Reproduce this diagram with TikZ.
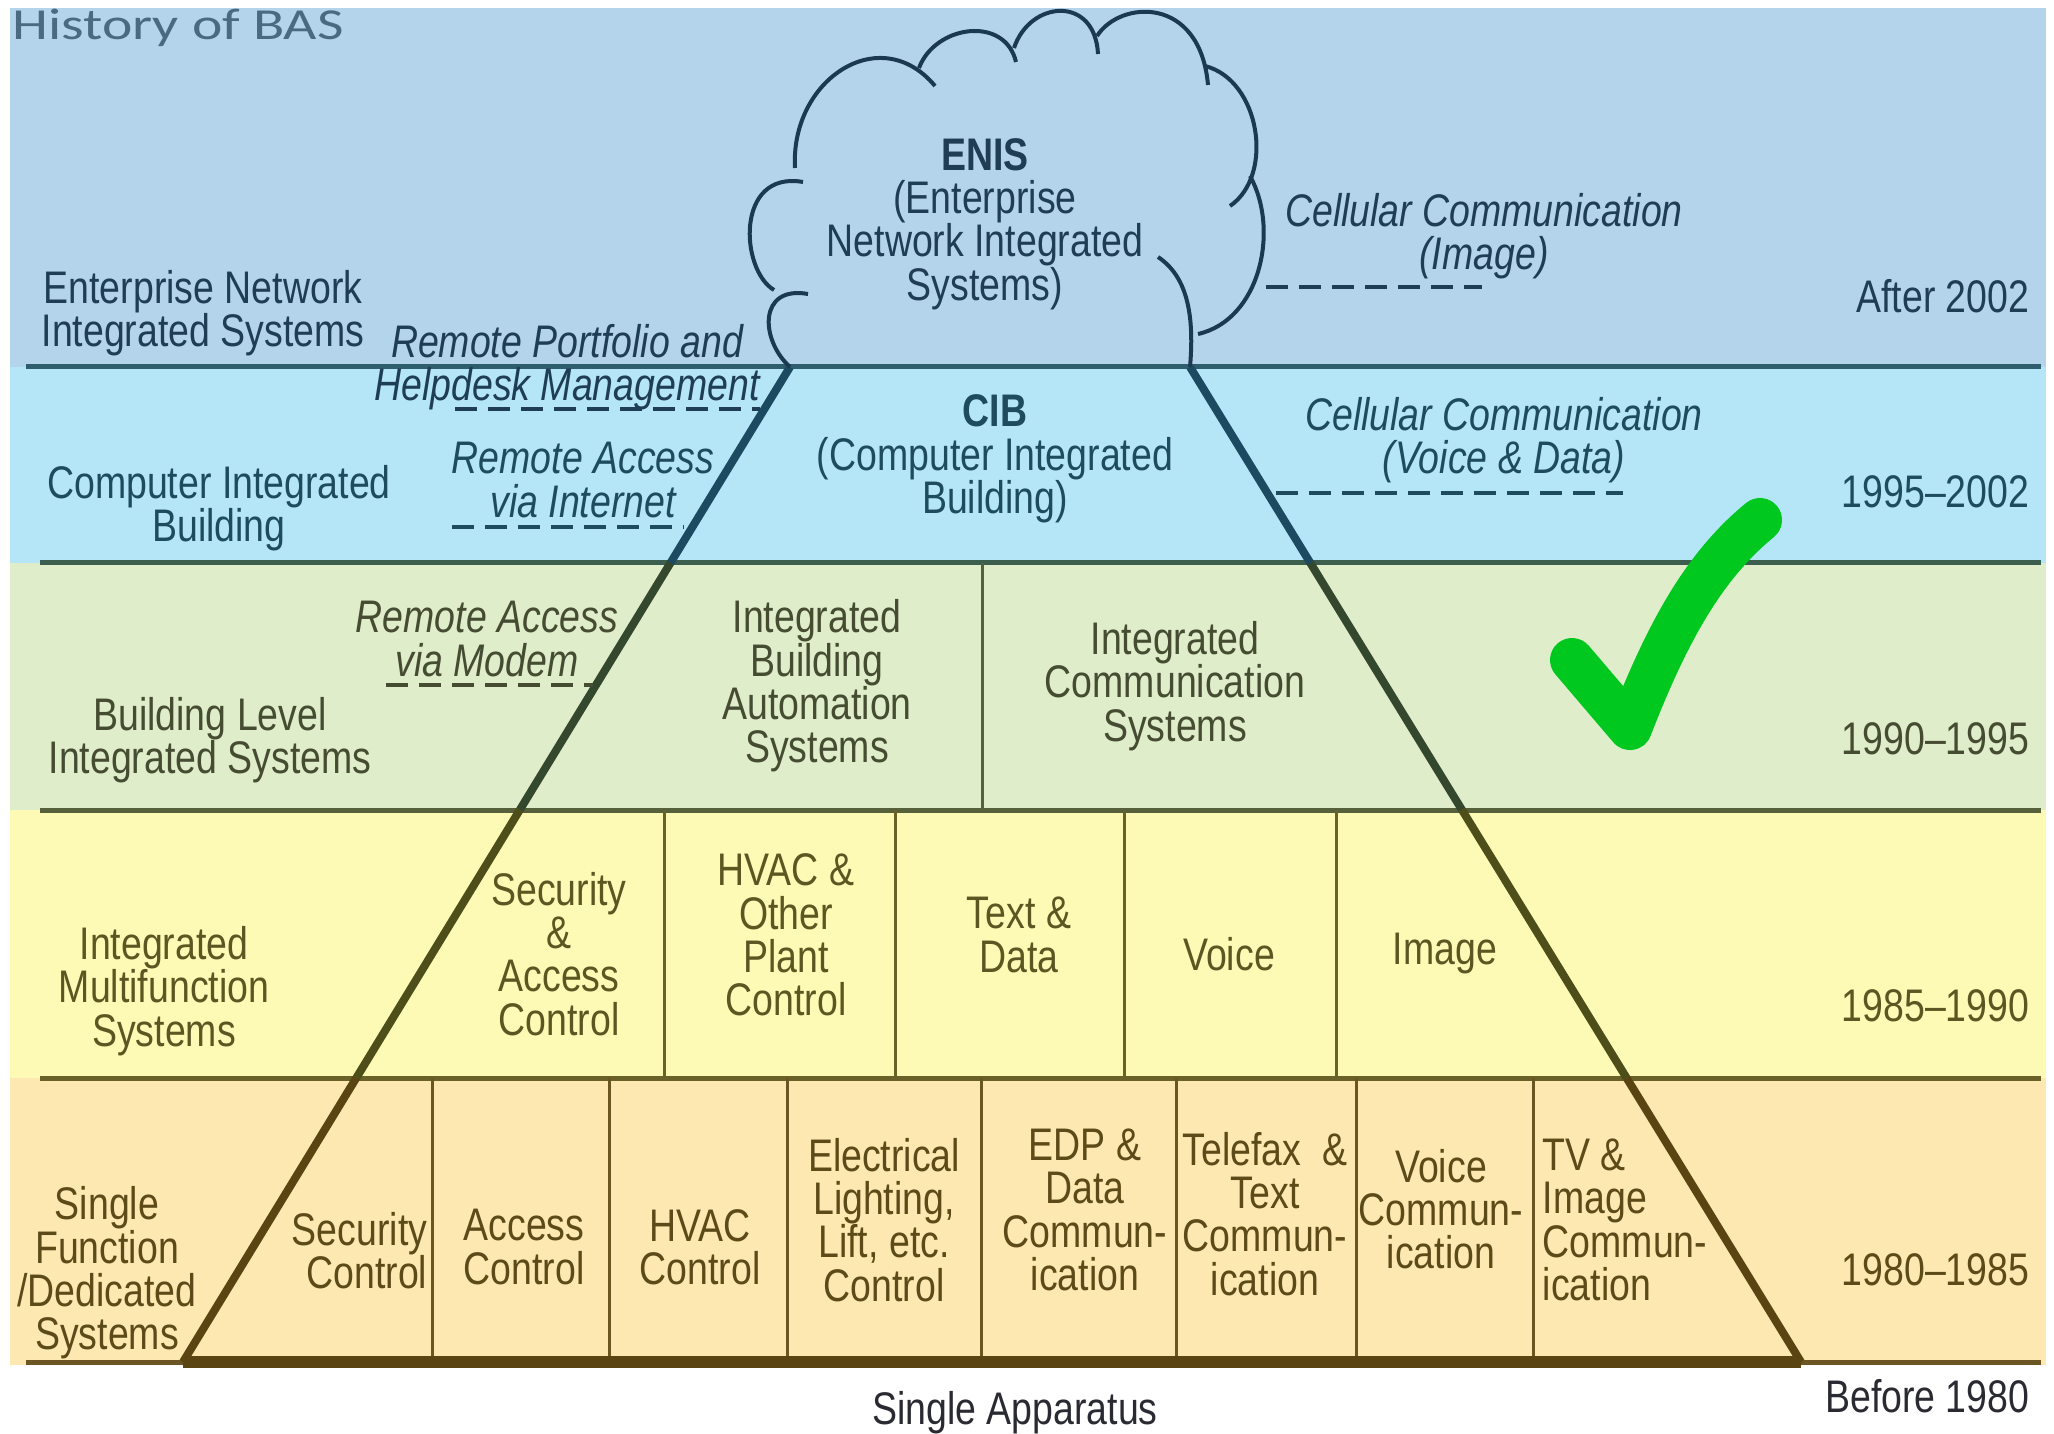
\documentclass[tikz,border=0pt]{standalone}
\usepackage{fontspec}
\setmainfont{Liberation Sans}[FakeStretch=0.82]
\newfontfamily\titlefont{Carlito}[FakeStretch=1.3]
\usetikzlibrary{calc}

\definecolor{bandA}{HTML}{B4D4EC}
\definecolor{bandB}{HTML}{B4E6F8}
\definecolor{bandC}{HTML}{E0EDCB}
\definecolor{bandD}{HTML}{FCFAB4}
\definecolor{bandE}{HTML}{FDE8B2}
\definecolor{inkA}{HTML}{1F3D55}
\definecolor{inkB}{HTML}{1F4B5E}
\definecolor{inkC}{HTML}{454C32}
\definecolor{inkD}{HTML}{5C5722}
\definecolor{inkE}{HTML}{5C4A18}
\definecolor{inkF}{HTML}{2A2A32}
\definecolor{lineA}{HTML}{2E5E6E}
\definecolor{lineB}{HTML}{3B5E4E}
\definecolor{lineC}{HTML}{56603A}
\definecolor{lineD}{HTML}{6A6128}
\definecolor{lineE}{HTML}{6B5522}
\definecolor{slantB}{HTML}{1C4A60}
\definecolor{slantC}{HTML}{34482E}
\definecolor{slantD}{HTML}{4E4E1A}
\definecolor{slantE}{HTML}{5A4412}
\definecolor{cloudink}{HTML}{1B3A52}
\definecolor{titleink}{HTML}{4A6A82}
\definecolor{tickgreen}{HTML}{00C81F}

\newcommand{\labelfont}{\fontsize{13pt}{12.3pt}\selectfont}
\newcommand{\remarkfont}{\labelfont\itshape}
\newcommand{\drawlabel}{\node[align=center]}
\newcommand{\drawremark}{\node[align=center,font=\remarkfont]}
\newcommand{\drawyear}{\node[anchor=east]}
\newcommand{\drawpoint}{\coordinate}

\begin{document}
\begin{tikzpicture}[x=0.1mm, y=-0.1mm, line join=round,
  every node/.style={font=\labelfont, inner sep=0pt},
  band/.style={line width=0.5mm},
  divider/.style={line width=0.3mm},
  slant/.style={line width=0.8mm},
  remark/.style={line width=0.4mm, dash pattern=on 2.2mm off 1.1mm},
  cloudline/.style={line width=0.4mm, draw=cloudink}]
\useasboundingbox (0,0) rectangle (2054,1434);
%bands
\fill[bandA] (10,8) rectangle (2046,367);
\fill[bandB] (10,367) rectangle (2046,563);
\fill[bandC] (10,563) rectangle (2046,810);
\fill[bandD] (10,810) rectangle (2046,1078);
\fill[bandE] (10,1078) rectangle (2046,1365);

\draw[band, lineA] (26,367) -- (2041,367);
\draw[band, lineB] (40,563) -- (2041,563);
\draw[band, lineC] (40,810) -- (2041,810);
\draw[band, lineD] (40,1078) -- (2041,1078);
\draw[band, lineE] (26,1362) -- (2041,1362);

\draw[divider, lineC] (982,563) -- (982,810);
\draw[divider, lineD] (664,810) -- (664,1078);
\draw[divider, lineD] (895,810) -- (895,1078);
\draw[divider, lineD] (1124,810) -- (1124,1078);
\draw[divider, lineD] (1336,810) -- (1336,1078);
\draw[divider, lineE] (432,1078) -- (432,1362);
\draw[divider, lineE] (609,1078) -- (609,1362);
\draw[divider, lineE] (787,1078) -- (787,1362);
\draw[divider, lineE] (981,1078) -- (981,1362);
\draw[divider, lineE] (1176,1078) -- (1176,1362);
\draw[divider, lineE] (1356,1078) -- (1356,1362);
\draw[divider, lineE] (1533,1078) -- (1533,1362);

%pyramid
\drawpoint (apexL) at (790,367);
\drawpoint (baseL) at (183,1362);
\drawpoint (apexR) at (1190,367);
\drawpoint (baseR) at (1801,1362);
\draw[slant, slantB] (apexL) -- ($(apexL)!0.197!(baseL)$);
\draw[slant, slantC] ($(apexL)!0.197!(baseL)$) -- ($(apexL)!0.445!(baseL)$);
\draw[slant, slantD] ($(apexL)!0.445!(baseL)$) -- ($(apexL)!0.715!(baseL)$);
\draw[slant, slantE] ($(apexL)!0.715!(baseL)$) -- (baseL);
\draw[slant, slantB] (apexR) -- ($(apexR)!0.197!(baseR)$);
\draw[slant, slantC] ($(apexR)!0.197!(baseR)$) -- ($(apexR)!0.445!(baseR)$);
\draw[slant, slantD] ($(apexR)!0.445!(baseR)$) -- ($(apexR)!0.715!(baseR)$);
\draw[slant, slantE] ($(apexR)!0.715!(baseR)$) -- (baseR);
\draw[line width=1.2mm, slantE] (baseL) -- (baseR);

%cloud
\draw[cloudline] (apexL) .. controls (760,340) and (758,285) .. (808,294);
\draw[cloudline] (774,290) .. controls (740,270) and (735,170) .. (803,182);
\draw[cloudline] (795,168) .. controls (790,80) and (880,20) .. (935,86);
\draw[cloudline] (919,68) .. controls (935,25) and (1005,15) .. (1016,62);
\draw[cloudline] (1014,48) .. controls (1030,0) and (1095,-5) .. (1098,54);
\draw[cloudline] (1097,36) .. controls (1120,0) and (1200,-5) .. (1208,85);
\draw[cloudline] (1205,66) .. controls (1260,80) and (1275,175) .. (1230,206);
\draw[cloudline] (1250,176) .. controls (1280,230) and (1260,320) .. (1198,334);
\draw[cloudline] (1158,257) .. controls (1185,275) and (1195,310) .. (apexR);

%remarks
\drawpoint (helpA) at (455,409);
\drawpoint (helpB) at (760,409);
\drawpoint (inetA) at (452,527);
\drawpoint (inetB) at (684,527);
\drawpoint (modemA) at (386,685);
\drawpoint (modemB) at (593,685);
\drawpoint (imgA) at (1266,287);
\drawpoint (imgB) at (1482,287);
\drawpoint (vdA) at (1276,493);
\drawpoint (vdB) at (1623,493);
\draw[remark, inkA] (helpA) -- (helpB);
\draw[remark, inkB] (inetA) -- (inetB);
\draw[remark, inkC] (modemA) -- (modemB);
\draw[remark, inkA] (imgA) -- (imgB);
\draw[remark, inkB] (vdA) -- (vdB);

%tick
\draw[tickgreen, line width=4.4mm, line cap=round] (1572,660) -- (1630,728) .. controls (1668,630) and (1705,565) .. (1760,520);

%texts
\node[anchor=base west, font=\titlefont\fontsize{12.6pt}{14pt}\selectfont, text=titleink] (title) at (12,40) {History of BAS};
\begin{scope}[color=inkA]
\drawlabel (enisRow) at (203,313) {Enterprise Network\\Integrated Systems};
\drawremark (portfolio) at (567,367) {Remote Portfolio and\\Helpdesk Management};
\drawlabel (enis) at (985,224) {\textbf{ENIS}\\(Enterprise\\Network Integrated\\Systems)};
\drawremark (cellImg) at (1484,236) {Cellular Communication\\(Image)};
\drawyear (yrA) at (2030,296) {After 2002};
\end{scope}
\begin{scope}[color=inkB]
\drawlabel (cibRow) at (219,508) {Computer Integrated\\Building};
\drawremark (inet) at (583,480) {Remote Access\\via Internet};
\drawlabel (cib) at (995,459) {\textbf{CIB}\\(Computer Integrated\\Building)};
\drawremark (cellVD) at (1504,440) {Cellular Communication\\(Voice \& Data)};
\drawyear (yrB) at (2030,492) {1995–2002};
\end{scope}
\begin{scope}[color=inkC]
\drawremark (modem) at (487,639) {Remote Access\\via Modem};
\drawlabel (blisRow) at (210,740) {Building Level\\Integrated Systems};
\drawlabel (ibas) at (817,686) {Integrated\\Building\\Automation\\Systems};
\drawlabel (ics) at (1175,686) {Integrated\\Communication\\Systems};
\drawyear (yrC) at (2030,739) {1990–1995};
\end{scope}
\begin{scope}[color=inkD]
\drawlabel (imsRow) at (164,991) {Integrated\\Multifunction\\Systems};
\drawlabel (secAcc) at (559,954) {Security\\\&\\Access\\Control};
\drawlabel (hvacPlant) at (786,935) {HVAC \&\\Other\\Plant\\Control};
\drawlabel (textData) at (1019,935) {Text \&\\Data};
\drawlabel (voice) at (1229,954) {Voice};
\drawlabel (image) at (1445,954) {Image};
\drawyear (yrD) at (2030,1006) {1985–1990};
\end{scope}
\begin{scope}[color=inkE]
\drawlabel (sfdsRow) at (107,1273) {Single\\Function\\/Dedicated\\Systems};
\node[align=right, anchor=east] (secCtl) at (428,1251) {Security\\Control};
\drawlabel (accCtl) at (524,1247) {Access\\Control};
\drawlabel (hvacCtl) at (700,1247) {HVAC\\Control};
\drawlabel (elec) at (884,1220) {Electrical\\Lighting,\\Lift, etc.\\Control};
\drawlabel (edp) at (1085,1210) {EDP \&\\Data\\Commun-\\ication};
\drawlabel (telefax) at (1265,1214) {Telefax\ \ \&\\Text\\Commun-\\ication};
\drawlabel (voiceCom) at (1441,1209) {Voice\\Commun-\\ication};
\node[align=left, anchor=west] (tvImg) at (1542,1220) {TV \&\\Image\\Commun-\\ication};
\drawyear (yrE) at (2030,1270) {1980–1985};
\end{scope}
\drawlabel[text=inkF] (apparatus) at (1015,1413) {Single Apparatus};
\drawyear[text=inkF] (yrF) at (2030,1396) {Before 1980};
\end{tikzpicture}
\end{document}
